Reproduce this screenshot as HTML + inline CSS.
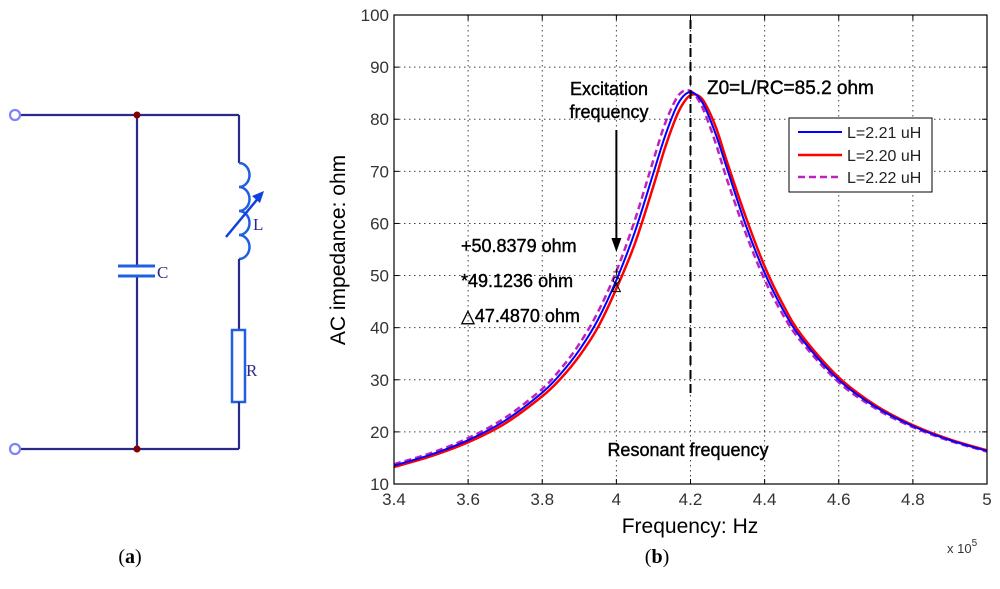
<!DOCTYPE html>
<html><head><meta charset="utf-8"><style>
body{margin:0;background:#fff;width:1000px;height:584px;overflow:hidden;font-family:"Liberation Sans",sans-serif}
</style></head><body>
<svg id="svg" width="1000" height="584" xmlns="http://www.w3.org/2000/svg">
<g stroke="#2a2a8a" stroke-width="2.2" fill="none">
<line x1="20" y1="115" x2="239" y2="115"/>
<line x1="20" y1="449" x2="239" y2="449"/>
<circle cx="15" cy="115" r="5" stroke="#8080ff" fill="#fff"/>
<circle cx="15" cy="449" r="5" stroke="#8080ff" fill="#fff"/>
<line x1="137" y1="115" x2="137" y2="266"/>
<line x1="137" y1="276" x2="137" y2="449"/>
<line x1="118" y1="266" x2="155" y2="266" stroke="#2060e0" stroke-width="3"/>
<line x1="118" y1="276" x2="155" y2="276" stroke="#2060e0" stroke-width="3"/>
<line x1="239" y1="115" x2="239" y2="163"/>
<path d="M239 163 a7 8 0 0 1 0 24 a7 8 0 0 1 0 24 a7 8 0 0 1 0 24 a7 8 0 0 1 0 24" stroke="#2060e0" stroke-width="2.5"/>
<line x1="226" y1="237" x2="260" y2="196" stroke="#1040e0" stroke-width="2.5"/>
<polygon points="264,191 252,196 260,203" fill="#1040e0" stroke="none"/>
<line x1="239" y1="259" x2="239" y2="330"/>
<rect x="232" y="330" width="13" height="72" stroke="#2060e0" stroke-width="2.5"/>
<line x1="239" y1="402" x2="239" y2="449"/>
<circle cx="137" cy="115" r="3.5" fill="#800000" stroke="none"/>
<circle cx="137" cy="449" r="3.5" fill="#800000" stroke="none"/>
</g>
<g font-family="Liberation Serif,serif" fill="#2a2a8a" font-size="17">
<text x="157" y="278">C</text>
<text x="253" y="230">L</text>
<text x="246" y="376">R</text>
</g>
<text x="130" y="563" text-anchor="middle" font-family="Liberation Serif,serif" font-size="20">(<tspan font-weight="bold">a</tspan>)</text>
<text x="657" y="563" text-anchor="middle" font-family="Liberation Serif,serif" font-size="20">(<tspan font-weight="bold">b</tspan>)</text>
<g id="chart"></g>
</svg>
<script>
const freqs=[340,350,360,370,380,385,390,395,400,405,410,413,416,418,420,422,424,427,430,435,440,445,450,460,470,480,490,500];
const zBlue=[13.53,15.64,18.41,22.17,27.54,31.17,35.71,41.50,49.12,58.40,69.68,76.48,82.06,84.38,85.2,84.39,82.11,76.73,70.21,59.51,50.50,43.40,37.86,29.98,24.77,21.11,18.41,16.34];
const zRed=[13.26,15.33,18.01,21.63,26.84,30.24,34.56,40.04,47.49,56.15,67.19,74.23,80.19,83.02,84.61,84.57,82.96,78.17,71.5,61.07,51.77,44.38,38.52,30.45,25.06,21.30,18.55,16.45];
const zMag=[13.80,15.95,18.81,22.71,28.25,32.11,36.87,42.97,50.84,60.67,72.19,78.91,83.74,85.38,85.41,83.85,80.94,74.93,68.1,57.93,49.21,42.41,37.2,29.51,24.47,20.91,18.27,16.23];
const xTicks=[3.4,3.6,3.8,4,4.2,4.4,4.6,4.8,5];
const yTicks=[10,20,30,40,50,60,70,80,90,100];
const markerVals=[50.8379,49.1236,47.4870];
const excitationF=400, resonantF=420;

const NS='http://www.w3.org/2000/svg';
const L=394,R=987,T=15,B=484;
const xs=f=>L+(f/100-3.4)/(5-3.4)*(R-L);
const ys=v=>B-(v-10)/90*(B-T);
const g=document.getElementById('chart');
function mk(tag,attrs,parent){const e=document.createElementNS(NS,tag);for(const k in attrs)e.setAttribute(k,attrs[k]);(parent||g).appendChild(e);return e;}
xTicks.forEach((t,i)=>{const x=xs(t*100);
 if(i>0&&i<xTicks.length-1){const l=mk('line',{x1:x,y1:T,x2:x,y2:B,stroke:'#444','stroke-width':1,'stroke-dasharray':'1.5,3.5'});
 
 }
 const tk=mk('line',{x1:x,y1:B,x2:x,y2:B-5,stroke:'#000'});
 
 
 const tk2=mk('line',{x1:x,y1:T,x2:x,y2:T+5,stroke:'#000'});
 
 
 const tx=mk('text',{x:x,y:B+21,'text-anchor':'middle','font-size':17,fill:'#333'});tx.textContent=String(t);
 
 
});
yTicks.forEach((t,i)=>{const y=ys(t);
 if(i>0&&i<yTicks.length-1){const l=mk('line',{x1:L,y1:y,x2:R,y2:y,stroke:'#444','stroke-width':1,'stroke-dasharray':'1.5,3.5'});
 
 }
 const tk=mk('line',{x1:L,y1:y,x2:L+5,y2:y,stroke:'#000'});
 
 
 const tk2=mk('line',{x1:R,y1:y,x2:R-5,y2:y,stroke:'#000'});
 
 
 const tx=mk('text',{x:L-5,y:y+6,'text-anchor':'end','font-size':17,fill:'#333'});tx.textContent=String(t);
 
 
});
function pathFor(vals){const p=freqs.map((f,i)=>[xs(f),ys(vals[i])]);let d='M'+p[0][0]+' '+p[0][1];
 for(let i=0;i<p.length-1;i++){const p0=p[i-1]||p[i],p1=p[i],p2=p[i+1],p3=p[i+2]||p2;
 d+=' C'+(p1[0]+(p2[0]-p0[0])/6)+' '+(p1[1]+(p2[1]-p0[1])/6)+' '+(p2[0]-(p3[0]-p1[0])/6)+' '+(p2[1]-(p3[1]-p1[1])/6)+' '+p2[0]+' '+p2[1];}
 return d;}
const cm=mk('path',{d:pathFor(zMag),fill:'none',stroke:'#c020c0','stroke-width':2.5,'stroke-dasharray':'7,4'});


const cr=mk('path',{d:pathFor(zRed),fill:'none',stroke:'#ff0000','stroke-width':2.5});


const cb=mk('path',{d:pathFor(zBlue),fill:'none',stroke:'#0000ff','stroke-width':2});


const rl=mk('line',{x1:xs(resonantF),y1:T+5,x2:xs(resonantF),y2:395,stroke:'#000','stroke-width':2,'stroke-dasharray':'9,5'});


const bx=mk('rect',{x:L,y:T,width:R-L,height:B-T,fill:'none',stroke:'#000','stroke-width':1.2});


const ex=xs(excitationF);
const al=mk('line',{x1:ex,y1:130,x2:ex,y2:245,stroke:'#000','stroke-width':2});


const ah=mk('polygon',{points:(ex-5)+',238 '+(ex+5)+',238 '+ex+',252',fill:'#000'});


const m1=mk('text',{x:ex,y:ys(markerVals[0])+5,'text-anchor':'middle','font-size':13});m1.textContent='+';


const m2=mk('circle',{cx:ex,cy:ys(markerVals[1]),r:3,fill:'none',stroke:'#000'});


const m3=mk('polygon',{points:(ex-4)+','+(ys(markerVals[2])+3)+' '+(ex+4)+','+(ys(markerVals[2])+3)+' '+ex+','+(ys(markerVals[2])-5),fill:'none',stroke:'#000'});


</script>
<svg width="1000" height="584" style="position:absolute;left:0;top:0" xmlns="http://www.w3.org/2000/svg">
<g font-family="Liberation Sans,sans-serif" fill="#000">
<text x="345" y="250" transform="rotate(-90 345 250)" text-anchor="middle" font-size="21">AC impedance: ohm</text>
<text x="690" y="533" text-anchor="middle" font-size="21">Frequency: Hz</text>
<text x="947" y="553" font-size="13" fill="#333">x 10<tspan dy="-7" font-size="10">5</tspan></text>
<g stroke="#000" stroke-width="0.4">
<text x="609" y="95" text-anchor="middle" font-size="18">Excitation</text>
<text x="609" y="118" text-anchor="middle" font-size="18">frequency</text>
<text x="707" y="94" font-size="19">Z0=L/RC=85.2 ohm</text>
<text x="688" y="456" text-anchor="middle" font-size="18">Resonant frequency</text>
<text x="461" y="252" font-size="18">+50.8379 ohm</text>
<text x="461" y="287" font-size="18">*49.1236 ohm</text>
<text x="461" y="322" font-size="18">△47.4870 ohm</text>
</g>
</g>
<g>
<rect x="789" y="118" width="143" height="74" fill="#fff" stroke="#000"/>
<line x1="798" y1="132" x2="842" y2="132" stroke="#0000ff" stroke-width="2"/>
<line x1="798" y1="155" x2="842" y2="155" stroke="#ff0000" stroke-width="2.5"/>
<line x1="798" y1="177" x2="842" y2="177" stroke="#c020c0" stroke-width="2.5" stroke-dasharray="7,4"/>
<g font-family="Liberation Sans,sans-serif" font-size="16" fill="#222">
<text x="847" y="138">L=2.21 uH</text>
<text x="847" y="161">L=2.20 uH</text>
<text x="847" y="183">L=2.22 uH</text>
</g>
</g>
</svg>
</body></html>
